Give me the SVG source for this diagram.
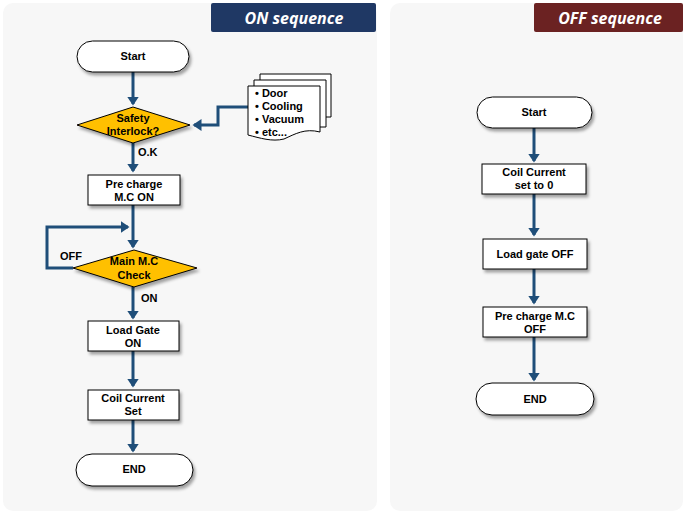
<svg xmlns="http://www.w3.org/2000/svg" width="685" height="514" viewBox="0 0 685 514">
<style>
.panel{fill:#f7f7f7;}
.t{font-family:"Liberation Sans",Arial,sans-serif;font-size:11px;font-weight:700;fill:#000;text-anchor:middle;}
.box{fill:#fff;stroke:#000;stroke-width:1;filter:url(#sh);}
.dia{fill:#ffc000;stroke:#000;stroke-width:1;filter:url(#sh);}
.ca{fill:none;stroke:#1f4e79;stroke-width:3;marker-end:url(#ah);}
.hd{font-family:"Open Sans","Noto Sans",sans-serif;font-size:16px;font-weight:700;font-style:italic;fill:#fff;text-anchor:middle;}
.pg{fill:#fff;stroke:#000;stroke-width:1;}
.lt{font-family:"Liberation Sans",Arial,sans-serif;font-size:11px;font-weight:700;fill:#000;}
</style>
<defs>
<filter id="sh" x="-20%" y="-20%" width="150%" height="160%">
<feDropShadow dx="2" dy="3" stdDeviation="1.5" flood-color="#000" flood-opacity="0.35"/>
</filter>
<marker id="ah" markerWidth="4" markerHeight="4" refX="2.5" refY="2" orient="auto" markerUnits="strokeWidth">
<path d="M0,0 L3,2 L0,4 z" fill="#1f4e79"/>
</marker>
</defs>
<rect class="panel" x="3" y="3" width="374" height="508" rx="10"/>
<rect class="panel" x="390" y="3" width="293" height="508" rx="10"/>
<g id="hdr-on"><rect x="211" y="3" width="165" height="29" rx="2" fill="#1f3864"/><text class="hd" x="294" y="24">ON sequence</text></g>
<g id="hdr-off"><rect x="534" y="3" width="149" height="29" rx="2" fill="#6b2222"/><text class="hd" x="610" y="24">OFF sequence</text></g>

<g id="connectors">
<path class="ca" d="M133,72 V104"/>
<path class="ca" d="M248,107 H218 V125 H194"/>
<path class="ca" d="M133,143 V171"/>
<path class="ca" d="M133,205 V247"/>
<path class="ca" d="M73,268 H47 V227 H128"/>
<path class="ca" d="M133,287 V318"/>
<path class="ca" d="M133,351 V386"/>
<path class="ca" d="M133,420 V451"/>
<path class="ca" d="M534,128 V161"/>
<path class="ca" d="M534,194 V235"/>
<path class="ca" d="M534,269 V303"/>
<path class="ca" d="M534,337 V380"/>
</g>

<g id="on-start"><rect class="box" x="77" y="41" width="112" height="31" rx="15.5"/><text class="t" x="133" y="60" font-size="12">Start</text></g>
<g id="docs">
<path class="pg" d="M260,74 H331 V117 H260 Z"/>
<path class="pg" d="M254,80 H326 V127 H254 Z"/>
<path class="pg" d="M248,86 H320 V132 C305,128 295,134 284,139 C272,142 260,138 248,135 Z"/>
<text class="lt"><tspan x="255" y="97">• Door</tspan><tspan x="255" y="110">• Cooling</tspan><tspan x="255" y="123">• Vacuum</tspan><tspan x="255" y="136">• etc...</tspan></text>
</g>
<g id="safety"><path class="dia" d="M133,107 L190,125 L133,143 L77,125 Z"/><text class="t"><tspan x="133" y="122">Safety</tspan><tspan x="133" y="135">Interlock?</tspan></text></g>
<text class="lt" x="138" y="156">O.K</text>
<g id="precharge"><rect class="box" x="88" y="175" width="92" height="30"/><text class="t"><tspan x="134" y="188">Pre charge</tspan><tspan x="134" y="201">M.C ON</tspan></text></g>
<g id="mainmc"><path class="dia" d="M134,250 L197,268 L134,287 L73,268 Z"/><text class="t"><tspan x="134" y="265">Main M.C</tspan><tspan x="134" y="279">Check</tspan></text></g>
<text class="lt" x="60" y="260">OFF</text>
<text class="lt" x="141" y="302">ON</text>
<g id="loadgate"><rect class="box" x="88" y="321" width="91" height="30"/><text class="t"><tspan x="133" y="334">Load Gate</tspan><tspan x="133" y="347">ON</tspan></text></g>
<g id="coilset"><rect class="box" x="88" y="390" width="91" height="30"/><text class="t"><tspan x="133" y="402">Coil Current</tspan><tspan x="133" y="415">Set</tspan></text></g>
<g id="on-end"><rect class="box" x="76" y="454" width="117" height="32" rx="16"/><text class="t" x="134" y="473">END</text></g>

<g id="off-start"><rect class="box" x="477" y="97" width="115" height="31" rx="15.5"/><text class="t" x="534" y="116" font-size="12">Start</text></g>
<g id="coil0"><rect class="box" x="482" y="164" width="104" height="30"/><text class="t"><tspan x="534" y="176">Coil Current</tspan><tspan x="534" y="189">set to 0</tspan></text></g>
<g id="lgoff"><rect class="box" x="483" y="239" width="104" height="30"/><text class="t" x="535" y="258">Load gate OFF</text></g>
<g id="pcoff"><rect class="box" x="483" y="307" width="104" height="30"/><text class="t"><tspan x="535" y="320">Pre charge M.C</tspan><tspan x="535" y="333">OFF</tspan></text></g>
<g id="off-end"><rect class="box" x="476" y="383" width="118" height="32" rx="16"/><text class="t" x="535" y="403">END</text></g>
</svg>
